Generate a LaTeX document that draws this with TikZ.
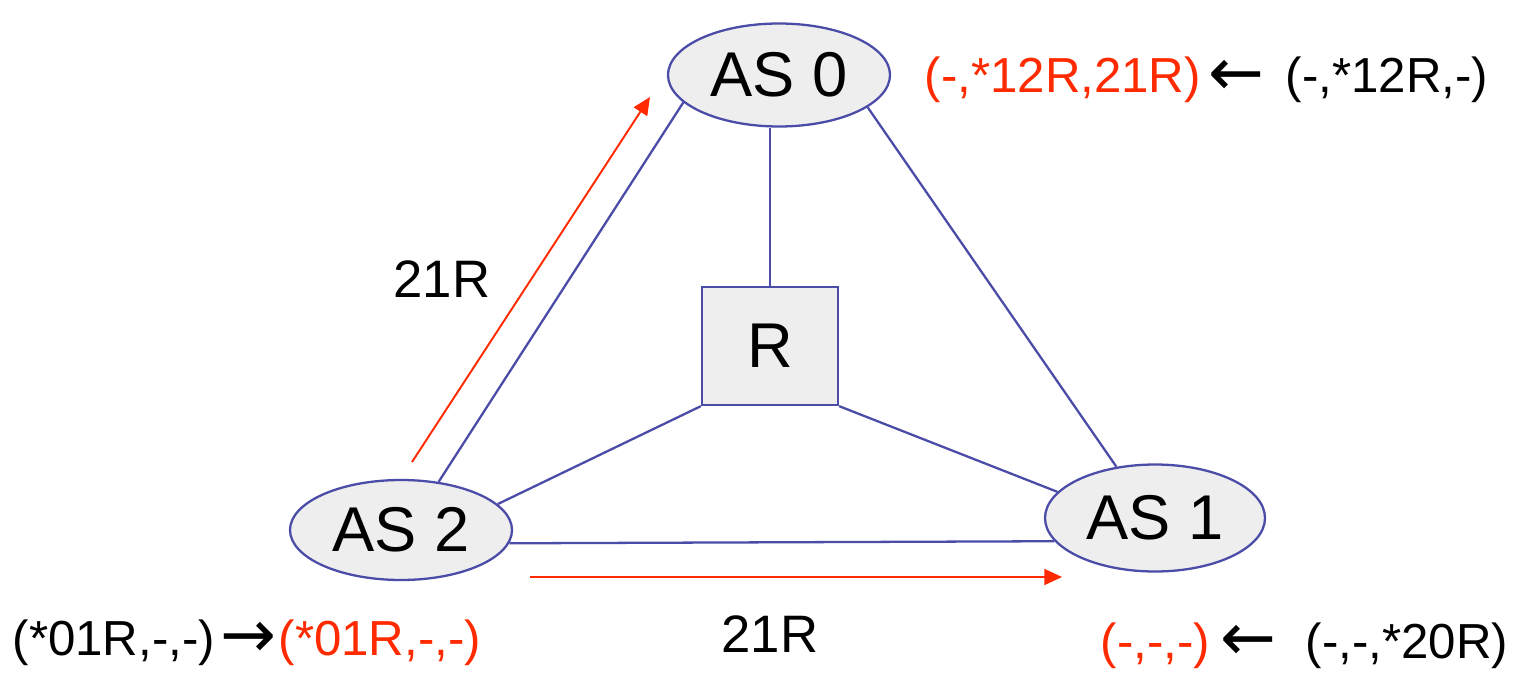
\documentclass[tikz,border=0pt]{standalone}
\usepackage{fontspec}
\setmainfont{Liberation Sans}
\newfontfamily\arrowfont{DejaVu Sans}
\usetikzlibrary{arrows.meta,positioning,shapes.geometric}
\definecolor{linkblue}{HTML}{4B4BA8}
\definecolor{asgray}{HTML}{EEEEEE}
\definecolor{msgred}{HTML}{FF2A00}

\begin{document}
\begin{tikzpicture}[
  x=1cm,y=1cm,
  as/.style={ellipse,draw=linkblue,line width=.65pt,fill=asgray,inner sep=0pt,
             minimum width=2.22cm,minimum height=1.03cm,font=\fontsize{18}{20}\selectfont},
  rbox/.style={draw=linkblue,line width=.65pt,fill=asgray,inner sep=0pt,
               minimum width=1.36cm,minimum height=1.18cm,font=\fontsize{18}{20}\selectfont},
  link/.style={draw=linkblue,line width=.65pt},
  msg/.style={-{Triangle[length=5pt,width=4.5pt]},draw=msgred,fill=msgred,line width=.55pt},
  lbl/.style={font=\fontsize{14}{16}\selectfont,inner sep=0pt,anchor=base west},
  arr/.style={font=\arrowfont\fontsize{19}{20}\selectfont,inner sep=0pt,anchor=base west},
  tag/.style={font=\fontsize{15}{17}\selectfont,inner sep=0pt,anchor=base}
]
\useasboundingbox (0,0) rectangle (15.22,6.72);

% ASes and the route server
\node[as] (as0) at (7.79,5.97) {AS 0};
\node[as,minimum height=1.0cm] (as2) at (4.01,1.42) {AS 2};
\node[as,minimum width=2.2cm,minimum height=1.07cm] (as1) at (11.55,1.54) {AS 1};
\node[rbox] (rs) at (7.70,3.26) {R};

% links
\draw[link] (as0.south -| rs.north)--(rs.north);
\draw[link] (as0.196)--(as2.52);
\draw[link] (as0.340)--(as1.127);
\draw[link] (as2.15)--(rs.south west);
\draw[link] (rs.south east)--(as1.165);
\draw[link] (as2.353)--(as1.193);

% announcements
\coordinate (upfrom) at (4.12,2.10);
\coordinate (upto) at (6.50,5.75);
\coordinate (rtfrom) at (5.30,0.95);
\coordinate (rtto) at (10.62,0.95);
\draw[msg] (upfrom)--(upto);
\draw[msg] (rtfrom)--(rtto);
\node[tag] (uptag) at (4.42,3.75) {21R};
\node[tag] (rttag) at (7.70,0.20) {21R};

% route tables
\node[lbl,text=msgred] (tab0new) at (9.24,5.79) {(-,*12R,21R)};
\node[arr] (tab0arr) at (12.08,5.77) {←};
\node[lbl] (tab0old) at (12.85,5.79) {(-,*12R,-)};

\node[lbl] (tab2old) at (0.12,0.17) {(*01R,-,-)};
\node[arr] (tab2arr) at (2.20,0.15) {→};
\node[lbl,text=msgred] (tab2new) at (2.78,0.17) {(*01R,-,-)};

\node[lbl,text=msgred] (tab1new) at (11.00,0.14) {(-,-,-)};
\node[arr] (tab1arr) at (12.20,0.12) {←};
\node[lbl] (tab1old) at (13.05,0.14) {(-,-,*20R)};
\end{tikzpicture}
\end{document}
